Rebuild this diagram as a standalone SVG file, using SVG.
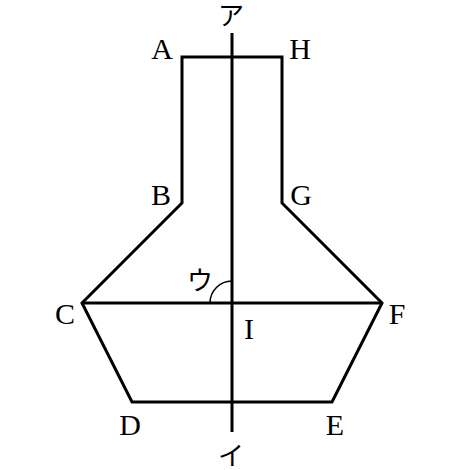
<svg xmlns="http://www.w3.org/2000/svg" width="462" height="470" viewBox="0 0 462 470">
<style>
.ln{fill:none;stroke:#000;stroke-width:3;stroke-linejoin:miter}
.thin{fill:none;stroke:#000;stroke-width:1.5}
.lb{font-family:"Liberation Serif","Noto Sans CJK JP",serif;font-size:30px;fill:#000;text-anchor:middle}
.jp{font-family:"Noto Sans CJK JP",serif;font-size:26px;fill:#000;text-anchor:middle}
</style>
<rect width="462" height="470" fill="#fff"/>
<g id="connectors">
<polygon id="flask" class="ln" points="182,57 282,57 282,203 382,303 332,402 132,402 82,303 182,203"/>
<line class="ln" x1="82" y1="303" x2="382" y2="303"/>
<line class="ln" x1="232" y1="33" x2="232" y2="432"/>
<path class="thin" d="M210,303 A22,22 0 0 1 232,281"/>
</g>
<g id="A"><text class="lb" x="162" y="59">A</text></g>
<g id="H"><text class="lb" x="300" y="59">H</text></g>
<g id="B"><text class="lb" x="161" y="205">B</text></g>
<g id="G"><text class="lb" x="301" y="205">G</text></g>
<g id="C"><text class="lb" x="65" y="324">C</text></g>
<g id="F"><text class="lb" x="397" y="324">F</text></g>
<g id="D"><text class="lb" x="130" y="435">D</text></g>
<g id="E"><text class="lb" x="335" y="435">E</text></g>
<g id="I"><text class="lb" x="249" y="339">I</text></g>
<g id="a"><text class="jp" x="231" y="25">ア</text></g>
<g id="i"><text class="jp" x="231" y="465">イ</text></g>
<g id="u"><text class="jp" x="200" y="290">ウ</text></g>
</svg>
